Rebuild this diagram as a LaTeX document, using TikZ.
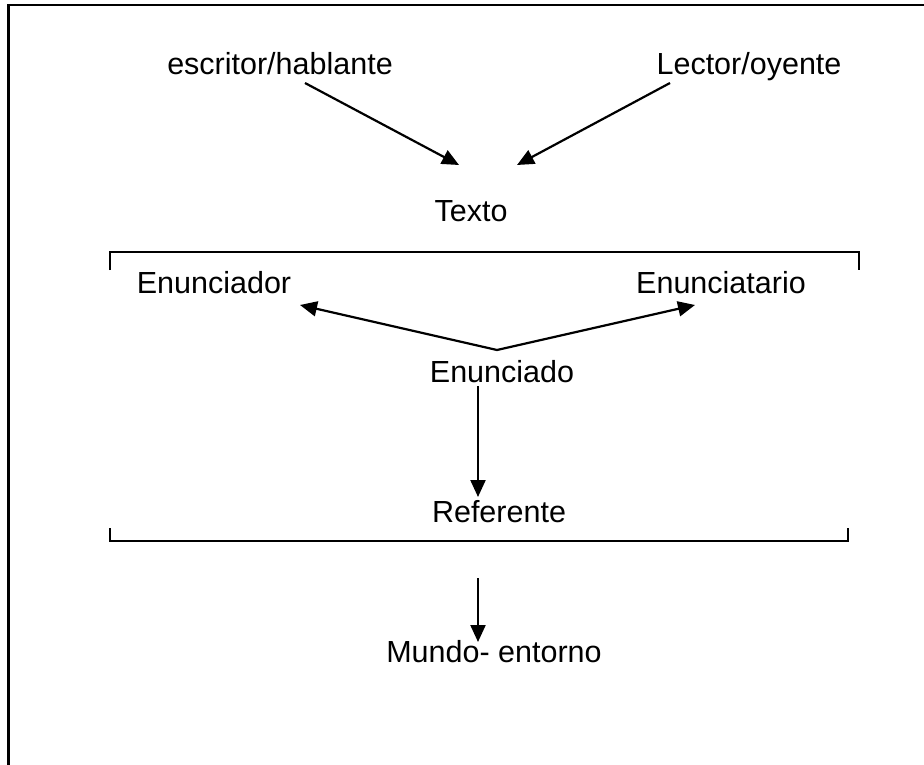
\documentclass[tikz,border=0pt]{standalone}
\usepackage{fontspec}
\setmainfont{Liberation Sans}
\usetikzlibrary{arrows.meta}
\begin{document}
\begin{tikzpicture}[x=1pt,y=-1pt,line width=2.2pt,
	lbl/.style={anchor=base,inner sep=0pt,font=\fontsize{30.5}{36}\selectfont},
	arr/.style={-{Triangle[length=17pt,width=15pt]}}]
	\useasboundingbox (0,0) rectangle (924,765);
	\draw[line width=2.5pt] (8.5,765) -- (8.5,5) -- (924,5);
	% labels
	\node[lbl] (escritor) at (280,75) {escritor/hablante};
	\node[lbl] (lector) at (749,75) {Lector/oyente};
	\node[lbl] (texto) at (471,221) {Texto};
	\node[lbl] (enunciador) at (214,293) {Enunciador};
	\node[lbl] (enunciatario) at (721,293) {Enunciatario};
	\node[lbl] (enunciado) at (502,382) {Enunciado};
	\node[lbl] (referente) at (499,522) {Referente};
	\node[lbl] (mundo) at (494,662) {Mundo- entorno};
	% arrow ends
	\coordinate (escritor-out) at (305,83);
	\coordinate (lector-out) at (670,83);
	\coordinate (texto-inl) at (459,165);
	\coordinate (texto-inr) at (517,165);
	\coordinate (enunciado-out) at (497,350);
	\coordinate (enunciador-in) at (300,305);
	\coordinate (enunciatario-in) at (695,305);
	\coordinate (enunciado-down) at (478,386);
	\coordinate (referente-in) at (478,497);
	\coordinate (marco-out) at (478,578);
	\coordinate (mundo-in) at (478,642);
	% connectors
	\draw[arr] (escritor-out) -- (texto-inl);
	\draw[arr] (lector-out) -- (texto-inr);
	\draw[arr] (enunciado-out) -- (enunciador-in);
	\draw[arr] (enunciado-out) -- (enunciatario-in);
	\draw[arr] (enunciado-down) -- (referente-in);
	\draw[arr] (marco-out) -- (mundo-in);
	% brackets
	\draw (110,270) -- (110,252) -- (859,252) -- (859,270);
	\draw (110,528) -- (110,541) -- (848,541) -- (848,528);
\end{tikzpicture}
\end{document}
